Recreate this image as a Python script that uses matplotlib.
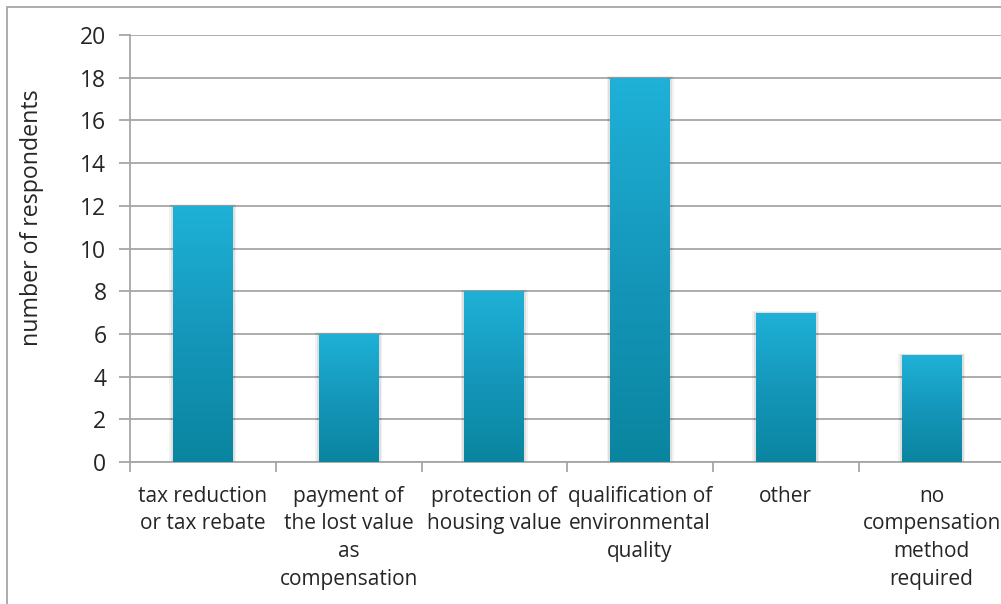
import matplotlib.pyplot as plt
import numpy as np
from matplotlib.colors import LinearSegmentedColormap
from matplotlib.patches import Rectangle

categories = [
    "tax reduction\nor tax rebate",
    "payment of\nthe lost value\nas\ncompensation",
    "protection of\nhousing value",
    "qualification of\nenvironmental\nquality",
    "other",
    "no\ncompensation\nmethod\nrequired",
]
respondents = [12, 6, 8, 18, 7, 5]
yticks = list(range(0, 21, 2))

plt.rcParams['font.family'] = ['Open Sans', 'DejaVu Sans']

W, H = 1001, 604
fig = plt.figure(figsize=(W / 100, H / 100), dpi=100)

# chart frame, runs off the right and bottom edges
fig.patches.append(Rectangle((7 / W, -0.1), 1.2, 1 - 7 / H + 0.1, transform=fig.transFigure,
                             fill=False, edgecolor='#a6a6a6', linewidth=1.3))

ax = fig.add_axes([130 / W, 1 - 462 / H, 874.5 / W, 427 / H])
ax.set_xlim(-0.5, len(categories) - 0.5)
ax.set_ylim(0, 20)

grad = LinearSegmentedColormap.from_list('bar', ['#0a859f', '#1597bb', '#1fb1d7'])
width = 0.41
x = np.arange(len(categories))
bars = ax.bar(x, respondents, width=width, color='none', zorder=3)
g = np.linspace(0, 1, 256).reshape(-1, 1)
for b in bars:
    bx, by = b.get_x(), b.get_y()
    bw, bh = b.get_width(), b.get_height()
    # soft shadow around each bar
    for k, a in [(0.025, 0.05), (0.015, 0.08)]:
        ax.add_patch(Rectangle((bx - k, by), bw + 2 * k, bh + k * 3, facecolor='black',
                               alpha=a, linewidth=0, zorder=2.5))
    im = ax.imshow(g, cmap=grad, origin='lower', aspect='auto',
                   extent=[bx, bx + bw, by, by + bh], zorder=3)
    im.set_clip_path(b)

ax.set_yticks(yticks)
ax.set_xticks(x)
ax.set_xticklabels(categories, fontsize=15, color='#262626', linespacing=1.42)
ax.tick_params(axis='y', labelsize=16.5, colors='#262626', length=8, width=1.3,
               color='#a6a6a6', pad=9)
ax.tick_params(axis='x', length=0, pad=17)
ax.set_xticks(np.arange(-0.5, len(categories) + 0.5, 1), minor=True)
ax.tick_params(axis='x', which='minor', length=7, width=1.3, color='#a6a6a6')

ax.grid(axis='y', color='#a6a6a6', linewidth=1.3, zorder=1)
ax.set_axisbelow(True)
for s in ['top', 'right']:
    ax.spines[s].set_visible(False)
for s in ['left', 'bottom']:
    ax.spines[s].set_color('#a6a6a6')
    ax.spines[s].set_linewidth(1.3)

ax.set_ylabel('number of respondents', fontsize=16.7, color='#262626')
ax.yaxis.set_label_coords(-86 / 874.5, (462 - 218) / 427)

fig.savefig('out.png', dpi=100)
